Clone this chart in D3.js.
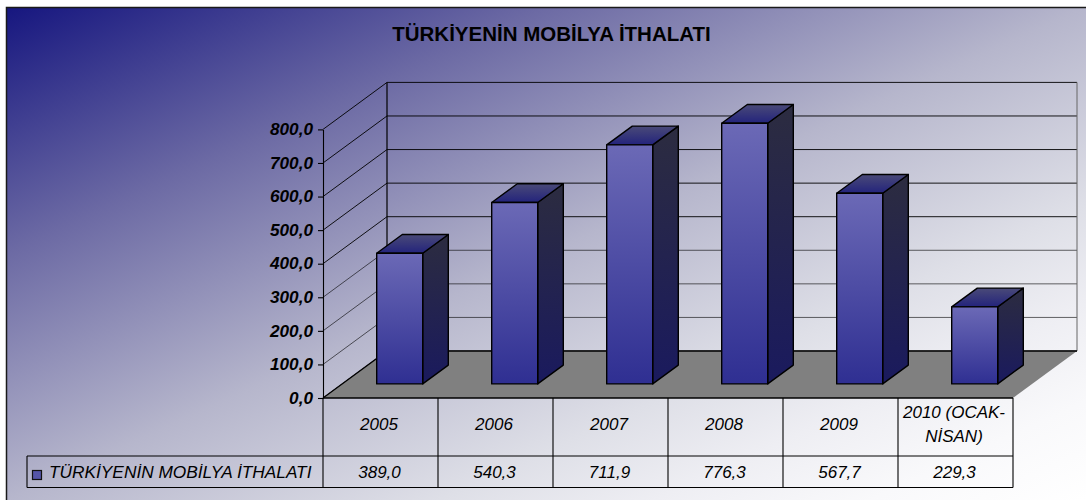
<!DOCTYPE html>
<html><head><meta charset="utf-8">
<script src="https://cdn.jsdelivr.net/npm/d3@7/dist/d3.min.js"></script>
<style>html,body{margin:0;padding:0;background:#fff}svg{display:block}text{font-family:"Liberation Sans",Arial,sans-serif;fill:#000}</style>
</head><body><svg id="c" width="1086" height="500"></svg>
<script>
const title = "TÜRKİYENİN MOBİLYA İTHALATI";
const seriesName = "TÜRKİYENİN MOBİLYA İTHALATI";
const categories = ["2005","2006","2007","2008","2009","2010 (OCAK-\nNİSAN)"];
const values = [389.0,540.3,711.9,776.3,567.7,229.3];
const tickValues = [0,100,200,300,400,500,600,700,800];

const W=1086,H=500;
const depthX=64, depthY=47;
const fmt=v=>v.toFixed(1).replace(".",",");
const svg=d3.select("#c");
const defs=svg.append("defs");
function grad(id,stops,a){
  const g=defs.append("linearGradient").attr("id",id)
    .attr("x1",a[0]).attr("y1",a[1]).attr("x2",a[2]).attr("y2",a[3]);
  stops.forEach(s=>g.append("stop").attr("offset",s[0]).attr("stop-color",s[1]));
}
grad("bg",[[0,"#16167f"],[0.25,"#6c6aa4"],[0.5,"#b6b6cc"],[0.7,"#dedfe7"],[0.8,"#eeeef3"],[0.9,"#f9f9fb"],[1,"#ffffff"]],[0,0,1,1]);
grad("front",[[0,"#6b69b6"],[1,"#2f2f92"]],[0,0,0,1]);
grad("side",[[0,"#2c2c40"],[1,"#1a1a5e"]],[0,0,0,1]);
grad("topFace",[[0,"#4a4a78"],[1,"#23237c"]],[0,0,0,1]);

svg.append("rect").attr("x",6).attr("y",7).attr("width",W-6).attr("height",H-7).attr("fill","url(#bg)");
svg.append("path").attr("d",`M6.5,${H}V7.5H${W}`).attr("fill","none").attr("stroke","#1a1a1a").attr("stroke-width",1.5);

const x=d3.scaleBand().domain(categories).range([323,1013]);
const y=d3.scaleLinear().domain([0,800]).range([398,129.4]);
const band=x.bandwidth();
const y0=y(0), yT=y(800), xL=x.range()[0], xR=x.range()[1];

const wall=svg.append("g");
wall.selectAll("path.g").data(tickValues).join("path").attr("class","g")
  .attr("d",v=>`M${xL},${y(v)}L${xL+depthX},${y(v)-depthY}H${xR+depthX}`)
  .attr("fill","none").attr("stroke","#000").attr("stroke-width",1).attr("stroke-opacity",v=>v>=400?.9:.6);
wall.append("path").attr("d",`M${xL+depthX},${yT-depthY}V${y0-depthY}`).attr("stroke","#000").attr("stroke-width",1.2);
wall.append("path").attr("d",`M${xR+depthX},${yT-depthY}V${y0-depthY}`).attr("stroke","#666").attr("stroke-width",1);

svg.append("path").attr("d",`M${xL},${y0}L${xL+depthX},${y0-depthY}H${xR+depthX}L${xR},${y0}Z`).attr("fill","#808080");
svg.append("path").attr("d",`M${xL},${y0}L${xL+depthX},${y0-depthY}H${xR+depthX}`).attr("fill","none").attr("stroke","#000").attr("stroke-width",1.3);

const bw=band*0.4, dx=depthX*0.4, dy=depthY*0.4, ox=depthX*0.3, oy=depthY*0.3;
const bars=svg.append("g").selectAll("g").data(categories.map((c,i)=>({c,v:values[i]}))).join("g")
  .attr("stroke","#000").attr("stroke-width",1.4).attr("stroke-linejoin","round");
const bx=d=>x(d.c)+band*0.3+ox, base=y0-oy, tp=d=>base-(y0-y(d.v));
bars.append("path").attr("fill","url(#side)")
  .attr("d",d=>`M${bx(d)+bw},${tp(d)}l${dx},${-dy}V${base-dy}l${-dx},${dy}Z`);
bars.append("path").attr("fill","url(#topFace)")
  .attr("d",d=>`M${bx(d)},${tp(d)}l${dx},${-dy}h${bw}l${-dx},${dy}Z`);
bars.append("rect").attr("fill","url(#front)")
  .attr("x",bx).attr("y",tp).attr("width",bw).attr("height",d=>base-tp(d));

const axis=d3.axisLeft(y).tickValues(tickValues).tickSize(5).tickPadding(5).tickFormat(fmt).tickSizeOuter(0);
const ag=svg.append("g").attr("transform",`translate(${xL},0)`).call(axis);
ag.selectAll("path,line").attr("stroke","#000").attr("stroke-width",1.1);
ag.selectAll("text").attr("font-size",17.2).attr("font-weight","bold").attr("font-style","italic")
  .style("font-family",'"Liberation Sans",Arial,sans-serif').attr("fill","#000").attr("dy","0.3em");

svg.append("text").attr("x",551.5).attr("y",41).attr("text-anchor","middle")
  .attr("font-size",20.5).attr("font-weight","bold").text(title);

const rowA=456, rowB=487.5, tableL=27;
const tb=svg.append("g").attr("stroke","#000").attr("stroke-width",1.1).attr("fill","none");
tb.append("path").attr("d",`M${xL},${y0}H${xR}`).attr("stroke-width",1.5);
tb.append("path").attr("d",`M${tableL},${rowA}H${xR}M${tableL},${rowB}H${xR}M${tableL},${rowA}V${rowB}M${xR},${y0}V${rowB}`);
tb.selectAll("path.v").data(categories).join("path").attr("class","v")
  .attr("d",c=>`M${x(c)},${y0}V${rowB}`);

const catT=svg.append("g").attr("font-size",17).attr("font-style","italic").attr("text-anchor","middle");
categories.forEach(c=>{
  const lines=c.split("\n");
  const cy=(y0+rowA)/2+3;
  lines.forEach((l,i)=>catT.append("text").attr("x",x(c)+band/2-1.5)
    .attr("y",cy+(i-(lines.length-1)/2)*24.5).text(l));
});
svg.append("g").attr("font-size",17).attr("font-style","italic").attr("text-anchor","middle")
  .selectAll("text").data(values).join("text")
  .attr("x",(v,i)=>x(categories[i])+band/2-1).attr("y",478).text(fmt);

svg.append("rect").attr("x",32.5).attr("y",470.5).attr("width",9).attr("height",9)
  .attr("fill","#5454a8").attr("stroke","#111").attr("stroke-width",1.2);
svg.append("text").attr("x",49).attr("y",478).attr("font-size",17.3).attr("font-style","italic").text(seriesName);
</script></body></html>
